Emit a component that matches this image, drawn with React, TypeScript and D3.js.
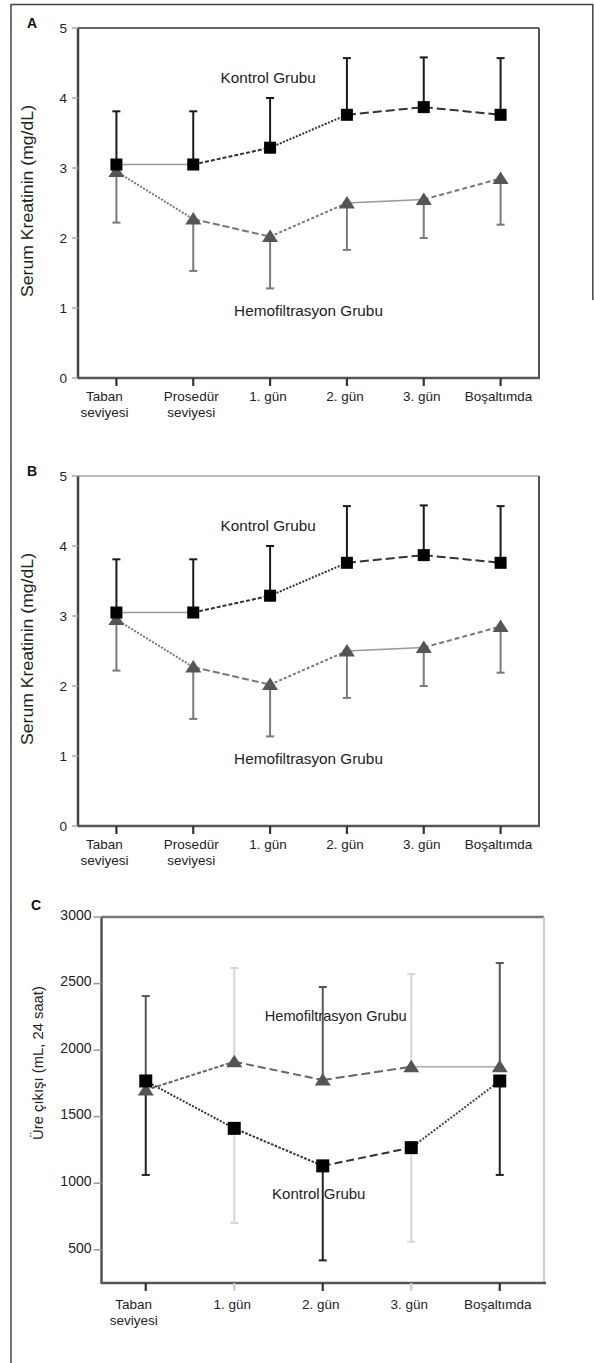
import React from "react";
import * as d3 from "d3";

const W = 594;
const H = 1363;
const FONT = '"Liberation Sans", Arial, Helvetica, sans-serif';

// A ve B: serum kreatinin (mg/dL)
const kreatininGunler = ["Taban\nseviyesi", "Prosedür\nseviyesi", "1. gün", "2. gün", "3. gün", "Boşaltımda"];
const kreatininTicks = [0, 1, 2, 3, 4, 5];
const kreatininKontrol = [3.05, 3.05, 3.29, 3.76, 3.87, 3.76];
const kreatininKontrolUst = [3.81, 3.81, 4.0, 4.57, 4.58, 4.57];
const kreatininHemo = [2.95, 2.27, 2.02, 2.5, 2.55, 2.85];
const kreatininHemoAlt = [2.22, 1.53, 1.28, 1.83, 2.0, 2.19];

// C: üre çıkışı (mL, 24 saat)
const ureGunler = ["Taban\nseviyesi", "1. gün", "2. gün", "3. gün", "Boşaltımda"];
const ureTicks = [500, 1000, 1500, 2000, 2500, 3000];
const ureKontrol = [1768, 1412, 1130, 1267, 1768];
const ureKontrolAlt = [1062, 701, 420, 560, 1062];
const ureHemo = [1700, 1913, 1775, 1875, 1875];
const ureHemoUst = [2406, 2617, 2474, 2572, 2654];

// segment styles (scan look: every piece drawn a bit differently)
const kontrolSegA = [
  { c: "#999", w: 1.3, d: "" },
  { c: "#333", w: 2, d: "4,2" },
  { c: "#333", w: 2, d: "2,1.5" },
  { c: "#333", w: 2, d: "9,4" },
  { c: "#333", w: 2, d: "9,4" },
];
const hemoSegA = [
  { c: "#777", w: 2, d: "2,1.5" },
  { c: "#777", w: 2, d: "7,3" },
  { c: "#777", w: 2, d: "3,2" },
  { c: "#999", w: 1.6, d: "" },
  { c: "#777", w: 2, d: "5,3" },
];
const kontrolSegC = [
  { c: "#333", w: 2, d: "2,1.5" },
  { c: "#333", w: 2, d: "2.5,1.5" },
  { c: "#333", w: 2, d: "8,4" },
  { c: "#444", w: 2, d: "2,1.5" },
];
const hemoSegC = [
  { c: "#666", w: 2, d: "4,2" },
  { c: "#666", w: 2, d: "8,4" },
  { c: "#666", w: 2, d: "9,4" },
  { c: "#aaa", w: 1.3, d: "" },
];
const ureUstRenk = ["#555", "#d6d6d6", "#555", "#d6d6d6", "#555"];
const ureAltRenk = ["#222", "#d6d6d6", "#222", "#d6d6d6", "#222"];
const ureTickRenk = ["#333", "#ccc", "#333", "#ccc", "#333"];

const line = d3.line<[number, number]>();

const tri = (cx: number, cy: number, hw = 8) =>
  `M${cx - hw},${cy + 5.5}L${cx},${cy - 7}L${cx + hw},${cy + 5.5}Z`;

function XLabels({ x, cats, y0, dy1, fs }) {
  return (
    <g fontSize={fs} fill="#222" textAnchor="middle">
      {cats.map((c, i) => {
        const lines = c.split("\n");
        const cx = (x(c) as number) + (i === 0 ? -12 : -2);
        return (
          <text key={c} x={cx} y={y0 + dy1}>
            {lines.map((l, j) => (
              <tspan key={j} x={cx} dy={j === 0 ? 0 : 16}>
                {l}
              </tspan>
            ))}
          </text>
        );
      })}
    </g>
  );
}

function KreatininPanel({ top, letter, topColor }) {
  const left = 78;
  const right = 539;
  const bottom = top + 350;
  const x = d3.scalePoint<string>().domain(kreatininGunler).range([left, right]).padding(0.5);
  const y = d3.scaleLinear().domain([0, 5]).range([bottom, top]);
  const px = (i: number) => x(kreatininGunler[i]) as number;

  return (
    <g fontFamily={FONT}>
      <text x={32} y={top} fontSize={14} fontWeight="bold" textAnchor="middle" fill="#111">
        {letter}
      </text>
      {/* frame */}
      <line x1={left} x2={right} y1={top} y2={top} stroke={topColor} strokeWidth={2} />
      <line x1={right} x2={right} y1={top} y2={bottom} stroke="#555" strokeWidth={2} />
      <line x1={left} x2={right + 1} y1={bottom} y2={bottom} stroke="#555" strokeWidth={2.5} />
      <line x1={left} x2={left} y1={top} y2={bottom + 1} stroke="#444" strokeWidth={2.5} />
      {kreatininTicks.map((t) => (
        <g key={t}>
          <line x1={left - 6} x2={left} y1={y(t)} y2={y(t)} stroke="#aaa" strokeWidth={1.5} />
          <text x={left - 11} y={y(t)} dy="0.35em" fontSize={13.5} textAnchor="end" fill="#222">
            {t}
          </text>
        </g>
      ))}
      {kreatininGunler.map((c) => (
        <line key={c} x1={x(c)} x2={x(c)} y1={bottom} y2={bottom + 8} stroke="#333" strokeWidth={2.2} />
      ))}
      <XLabels x={x} cats={kreatininGunler} y0={bottom} dy1={23} fs={13.5} />
      <text
        transform={`translate(33,${(top + bottom) / 2 - 2}) rotate(-90)`}
        textAnchor="middle"
        fontSize={17}
        textLength={192}
        lengthAdjust="spacingAndGlyphs"
        fill="#222"
      >
        Serum Kreatinin (mg/dL)
      </text>

      {/* lines */}
      {kontrolSegA.map((s, i) => (
        <path
          key={"k" + i}
          d={line([[px(i), y(kreatininKontrol[i])], [px(i + 1), y(kreatininKontrol[i + 1])]]) || ""}
          stroke={s.c}
          strokeWidth={s.w}
          strokeDasharray={s.d}
          fill="none"
        />
      ))}
      {hemoSegA.map((s, i) => (
        <path
          key={"h" + i}
          d={line([[px(i), y(kreatininHemo[i])], [px(i + 1), y(kreatininHemo[i + 1])]]) || ""}
          stroke={s.c}
          strokeWidth={s.w}
          strokeDasharray={s.d}
          fill="none"
        />
      ))}

      {/* error bars */}
      {kreatininGunler.map((c, i) => (
        <g key={"e" + i}>
          <line x1={px(i)} x2={px(i)} y1={y(kreatininHemo[i])} y2={y(kreatininHemoAlt[i])} stroke="#7a7a7a" strokeWidth={2} />
          <line x1={px(i) - 4} x2={px(i) + 4} y1={y(kreatininHemoAlt[i])} y2={y(kreatininHemoAlt[i])} stroke="#7a7a7a" strokeWidth={2} />
          <line x1={px(i)} x2={px(i)} y1={y(kreatininKontrol[i])} y2={y(kreatininKontrolUst[i])} stroke="#1a1a1a" strokeWidth={2} />
          <line x1={px(i) - 4} x2={px(i) + 4} y1={y(kreatininKontrolUst[i])} y2={y(kreatininKontrolUst[i])} stroke="#1a1a1a" strokeWidth={2} />
        </g>
      ))}

      {/* markers */}
      {kreatininGunler.map((c, i) => (
        <path key={"t" + i} d={tri(px(i), y(kreatininHemo[i]))} fill="#555" />
      ))}
      {kreatininGunler.map((c, i) => (
        <rect key={"s" + i} x={px(i) - 6} y={y(kreatininKontrol[i]) - 6} width={12} height={12} fill="#000" />
      ))}

      <text x={px(2) - 2} y={y(4.21)} fontSize={15.3} textAnchor="middle" fill="#222">
        Kontrol Grubu
      </text>
      <text x={(px(2) + px(3)) / 2} y={y(0.89)} fontSize={15.3} textAnchor="middle" fill="#222">
        Hemofiltrasyon Grubu
      </text>
    </g>
  );
}

function UrePanel() {
  const left = 101.5;
  const right = 544;
  const top = 917;
  const bottom = 1283;
  const x = d3.scalePoint<string>().domain(ureGunler).range([left, right]).padding(0.5);
  const y = d3.scaleLinear().domain([250, 3000]).range([bottom, top]);
  const px = (i: number) => x(ureGunler[i]) as number;

  return (
    <g fontFamily={FONT}>
      <text x={36} y={910} fontSize={14} fontWeight="bold" textAnchor="middle" fill="#111">
        C
      </text>
      <line x1={left} x2={right} y1={top} y2={top} stroke="#777" strokeWidth={2.5} />
      <line x1={right} x2={right} y1={top} y2={bottom} stroke="#ccc" strokeWidth={2} />
      <line x1={left} x2={right + 2} y1={bottom} y2={bottom} stroke="#555" strokeWidth={2.5} />
      <line x1={left} x2={left} y1={top} y2={bottom + 1} stroke="#555" strokeWidth={2.5} />
      {ureTicks.map((t) => (
        <g key={t}>
          <line x1={left - 8} x2={left} y1={y(t)} y2={y(t)} stroke="#999" strokeWidth={1.5} />
          <text x={left - 10} y={y(t)} dy="0.2em" fontSize={14} textAnchor="end" fill="#222">
            {t}
          </text>
        </g>
      ))}
      {ureGunler.map((c, i) => (
        <line key={c} x1={x(c)} x2={x(c)} y1={bottom} y2={bottom + 8} stroke={ureTickRenk[i]} strokeWidth={2.2} />
      ))}
      <XLabels x={x} cats={ureGunler} y0={bottom} dy1={26} fs={13.5} />
      <text transform={`translate(43,1063) rotate(-90)`} textAnchor="middle" fontSize={14.8} fill="#222">
        Üre çıkışı (mL, 24 saat)
      </text>

      {kontrolSegC.map((s, i) => (
        <path
          key={"k" + i}
          d={line([[px(i), y(ureKontrol[i])], [px(i + 1), y(ureKontrol[i + 1])]]) || ""}
          stroke={s.c}
          strokeWidth={s.w}
          strokeDasharray={s.d}
          fill="none"
        />
      ))}
      {hemoSegC.map((s, i) => (
        <path
          key={"h" + i}
          d={line([[px(i), y(ureHemo[i])], [px(i + 1), y(ureHemo[i + 1])]]) || ""}
          stroke={s.c}
          strokeWidth={s.w}
          strokeDasharray={s.d}
          fill="none"
        />
      ))}

      {ureGunler.map((c, i) => (
        <g key={"e" + i}>
          <line x1={px(i)} x2={px(i)} y1={y(ureHemo[i])} y2={y(ureHemoUst[i])} stroke={ureUstRenk[i]} strokeWidth={2} />
          <line x1={px(i) - 4} x2={px(i) + 4} y1={y(ureHemoUst[i])} y2={y(ureHemoUst[i])} stroke={ureUstRenk[i]} strokeWidth={2} />
          <line x1={px(i)} x2={px(i)} y1={y(ureKontrol[i])} y2={y(ureKontrolAlt[i])} stroke={ureAltRenk[i]} strokeWidth={2} />
          <line x1={px(i) - 4} x2={px(i) + 4} y1={y(ureKontrolAlt[i])} y2={y(ureKontrolAlt[i])} stroke={ureAltRenk[i]} strokeWidth={2} />
        </g>
      ))}

      {ureGunler.map((c, i) => (
        <path key={"t" + i} d={tri(px(i), y(ureHemo[i]))} fill="#555" />
      ))}
      {ureGunler.map((c, i) => (
        <rect key={"s" + i} x={px(i) - 6.5} y={y(ureKontrol[i]) - 6.5} width={13} height={13} fill="#000" />
      ))}

      <text x={px(2) + 13} y={y(2219)} fontSize={14.6} textAnchor="middle" fill="#222">
        Hemofiltrasyon Grubu
      </text>
      <text x={px(2) - 4} y={y(881)} fontSize={15} textAnchor="middle" fill="#222">
        Kontrol Grubu
      </text>
    </g>
  );
}

export default function App() {
  return (
    <svg
      width={W}
      height={H}
      viewBox={`0 0 ${W} ${H}`}
      style={{ position: "absolute", left: 0, top: 0, display: "block", background: "#fff" }}
    >
      <rect width={W} height={H} fill="#fff" />
      {/* outer frame of the scanned figure */}
      <line x1={11} x2={11} y1={4} y2={H} stroke="#444" strokeWidth={1.5} />
      <line x1={11} x2={593} y1={4.5} y2={4.5} stroke="#444" strokeWidth={1.5} />
      <line x1={592.8} x2={592.8} y1={4} y2={300} stroke="#444" strokeWidth={1.5} />
      <KreatininPanel top={28} letter="A" topColor="#666" />
      <KreatininPanel top={476} letter="B" topColor="#bbb" />
      <UrePanel />
    </svg>
  );
}
